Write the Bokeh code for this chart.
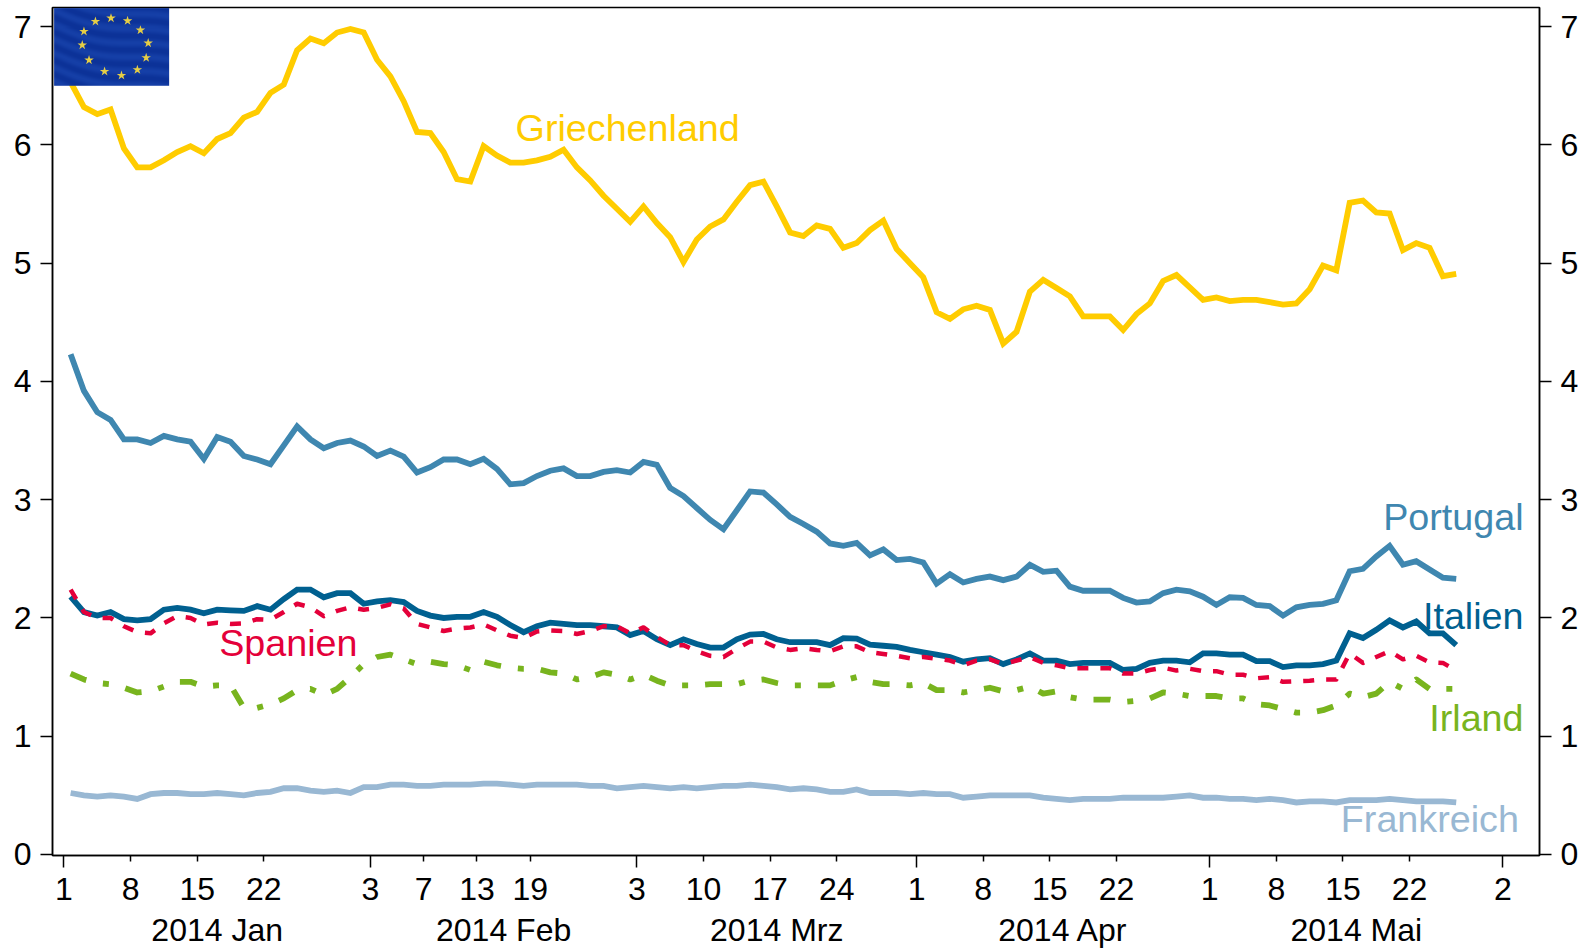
import numpy as np
from bokeh.core.properties import value
from bokeh.embed import file_html
from bokeh.models import ColumnDataSource, FixedTicker, LinearAxis, Range1d
from bokeh.plotting import figure
from bokeh.resources import INLINE

griechenland = [6.53,6.32,6.26,6.3,5.97,5.81,5.81,5.87,5.94,5.99,5.93,6.05,6.1,6.23,6.28,6.44,6.51,6.8,6.9,6.86,6.95,6.98,6.95,6.72,6.58,6.37,6.11,6.1,5.94,5.71,5.69,5.99,5.91,5.85,5.85,5.87,5.9,5.96,5.81,5.7,5.57,5.46,5.35,5.48,5.34,5.22,5.01,5.2,5.31,5.37,5.52,5.66,5.69,5.48,5.26,5.23,5.32,5.29,5.13,
                5.17,5.28,5.36,5.12,5.00,4.88,4.585,4.53,4.61,4.64,4.605,4.32,4.42,4.76,4.86,4.79,4.72,4.55,4.55,4.55,4.435,4.57,4.66,4.85,4.90,4.795,4.69,4.71,4.68,4.69,4.69,4.67,4.65,4.66,4.78,4.98,4.94,5.51,5.53,5.43,5.42,5.11,5.17,5.13,4.89,4.91]
portugal = [4.23,3.92,3.74,3.675,3.51,3.51,3.48,3.54,3.51,3.49,3.345,3.53,3.49,3.37,3.34,3.30,3.46,3.62,3.51,3.435,3.48,3.50,3.45,3.37,3.415,3.365,3.23,3.275,3.34,3.34,3.30,3.345,3.26,3.13,3.14,3.20,3.245,3.265,3.20,3.20,3.235,3.25,3.23,3.32,3.295,3.10,3.03,2.93,2.83,2.75,2.91,3.07,3.06,2.96,2.855,2.795,2.73,2.63,2.61,2.635,2.53,2.58,2.49,2.50,2.47,2.29,2.37,2.30,2.33,2.35,2.32,2.35,
            2.45,2.39,2.40,
            2.265,2.23,2.23,2.23,2.17,2.13,2.14,2.21,2.24,2.225,2.18,2.11,2.175,2.17,2.11,2.10,2.02,2.09,2.11,2.12,2.15,2.395,2.415,2.52,2.61,2.45,2.48,2.41,2.34,2.33]
italien = [2.18,2.05,2.02,2.05,1.99,1.98,1.99,2.07,2.085,2.07,2.04,2.07,2.065,2.06,2.10,2.07,2.16,2.24,2.24,2.175,2.21,2.21,2.12,2.14,2.15,2.135,2.06,2.02,2.00,2.01,2.01,2.05,2.01,1.94,1.88,1.93,1.96,1.95,1.94,1.94,1.93,1.92,1.855,
           1.89,1.82,1.77,1.82,1.78,1.75,1.75,1.82,1.86,1.865,1.82,1.795,1.795,1.795,1.77,1.83,1.825,1.775,1.765,1.755,1.73,1.71,1.69,1.67,1.63,1.65,1.66,
           1.61,1.65,1.70,1.64,1.64,1.61,1.62,1.62,1.62,1.56,1.57,1.62,1.64,1.64,1.625,1.70,1.70,1.69,1.69,1.635,1.635,1.585,
           1.60,1.60,1.61,1.64,1.87,1.83,1.90,1.98,1.92,1.97,1.87,1.87,1.77]
spanien = [2.24,2.05,2.00,2.00,1.93,1.88,1.87,1.955,2.015,2.00,1.945,1.96,1.95,1.955,1.99,1.985,2.05,2.12,2.09,2.015,2.06,2.09,2.07,2.085,2.115,2.08,1.95,1.92,1.89,1.91,1.92,1.945,1.895,1.85,1.83,1.885,1.895,1.89,1.865,1.89,1.93,1.93,1.87,1.92,
           1.84,1.77,1.77,1.72,1.68,1.67,1.74,1.80,1.80,1.75,1.73,1.745,1.73,1.72,1.76,1.76,1.71,1.695,1.68,1.66,1.67,1.655,1.64,1.60,1.64,1.65,1.61,
           1.64,1.67,1.62,1.60,1.575,1.575,1.575,1.575,1.53,1.53,1.56,1.58,1.555,1.57,1.55,1.55,1.52,1.52,1.49,
           1.50,1.46,1.465,1.47,1.48,1.48,1.70,1.62,1.67,1.72,1.65,1.68,1.625,1.62,1.555]
irland = [1.53,1.48,1.45,1.44,1.41,1.37,1.38,1.42,1.46,1.46,1.42,1.43,1.43,1.24,1.24,1.27,1.32,1.39,1.4,1.35,1.4,1.5,1.61,1.67,1.69,1.65,1.61,1.63,1.61,1.6,1.56,1.63,1.6,1.58,1.57,1.57,1.54,1.53,1.48,1.5,1.54,1.52,1.48,1.52,1.47,1.43,1.43,1.43,1.44,1.44,1.44,1.47,1.48,1.45,1.43,1.43,1.43,1.43,1.47,1.5,1.46,1.44,1.44,1.43,1.45,1.39,1.39,1.37,1.39,1.41,1.38,1.39,1.42,1.36,1.38,1.33,1.31,1.31,1.31,1.29,1.3,1.32,1.37,1.36,1.34,1.34,1.34,1.32,1.32,1.27,1.26,1.23,1.2,1.2,1.22,1.26,1.36,1.33,1.36,1.46,1.4,1.48,1.4,1.4,1.4]
frankreich = [0.52,0.50,0.49,0.50,0.49,0.47,0.51,0.52,0.52,0.51,0.51,0.52,0.51,0.50,0.52,0.53,0.56,0.56,0.54,0.53,0.54,0.52,0.57,0.57,0.59,0.59,0.58,0.58,0.59,0.59,0.59,0.60,0.60,0.59,0.58,0.59,0.59,0.59,0.59,0.58,0.58,0.56,0.57,0.58,0.57,0.56,0.57,0.56,0.57,0.58,0.58,0.59,0.58,0.57,0.55,0.56,0.55,0.53,0.53,0.55,0.52,0.52,0.52,0.51,0.52,0.51,0.51,0.48,0.49,0.50,0.50,0.50,0.50,0.48,0.47,0.46,0.47,0.47,0.47,0.48,0.48,0.48,0.48,0.49,0.50,0.48,0.48,0.47,0.47,0.46,0.47,0.46,0.44,0.45,0.45,0.44,0.46,0.46,0.46,0.47,0.46,0.45,0.45,0.45,0.44]

day_ticks = [-0.5,4.5,9.5,14.5,22.5,26.5,30.5,34.5,42.5,47.5,52.5,57.5,63.5,68.5,73.5,78.5,85.5,90.5,95.5,100.5,107.5]
day_labels = ["1","8","15","22","3","7","13","19","3","10","17","24","1","8","15","22","1","8","15","22","2"]
month_starts = [-0.5,22.5,42.5,63.5,85.5,107.5]
month_labels = ["2014 Jan","2014 Feb","2014 Mrz","2014 Apr","2014 Mai"]
y_ticks = [0,1,2,3,4,5,6,7]

FONT = "Liberation Sans"
TICK_PX = "32px"
LABEL_PX = "37.7px"

x_left, x_right = -1.36, 110.25
y_bottom, y_top = -0.0085, 7.162

p = figure(frame_width=1487, frame_height=848, width=1581, height=943,
           x_range=Range1d(x_left, x_right), y_range=Range1d(y_bottom, y_top),
           output_backend="svg", toolbar_location=None, x_axis_location=None, y_axis_location=None,
           min_border_left=52, min_border_right=42, min_border_top=7, min_border_bottom=0,
           background_fill_color="white", border_fill_color="white",
           outline_line_color="black", outline_line_width=1.5)
p.grid.visible = False

for side in ("left", "right"):
    ax = LinearAxis(ticker=FixedTicker(ticks=y_ticks), major_tick_in=0, major_tick_out=12,
                    minor_tick_in=0, minor_tick_out=0, major_tick_line_width=1.5, axis_line_width=1.5,
                    major_label_text_font=FONT, major_label_text_font_size=TICK_PX,
                    major_label_text_color="black", major_label_standoff=9)
    p.add_layout(ax, side)

minor = [t for t in day_ticks if t not in month_starts]
tick_axis = LinearAxis(ticker=FixedTicker(ticks=month_starts, minor_ticks=minor),
                       major_tick_in=0, major_tick_out=12, minor_tick_in=0, minor_tick_out=6,
                       major_tick_line_width=1.5, minor_tick_line_width=1.5, axis_line_width=1.5,
                       major_label_text_font_size="1px", major_label_text_alpha=0,
                       major_label_standoff=0)
p.add_layout(tick_axis, "below")

day_axis = LinearAxis(ticker=FixedTicker(ticks=day_ticks),
                      major_label_overrides={t: s for t, s in zip(day_ticks, day_labels)},
                      axis_line_color=None, major_tick_line_color=None, minor_tick_line_color=None,
                      major_label_text_font=FONT, major_label_text_font_size=TICK_PX,
                      major_label_text_color="black", major_label_standoff=4)
p.add_layout(day_axis, "below")

month_centers = [(a + b) / 2 for a, b in zip(month_starts[:-1], month_starts[1:])]
month_axis = LinearAxis(ticker=FixedTicker(ticks=month_centers),
                        major_label_overrides={t: s for t, s in zip(month_centers, month_labels)},
                        axis_line_color=None, major_tick_line_color=None, minor_tick_line_color=None,
                        major_label_text_font=FONT, major_label_text_font_size=TICK_PX,
                        major_label_text_color="black", major_label_standoff=3)
p.add_layout(month_axis, "below")

idx = list(range(len(griechenland)))
W = 5.8
p.line(idx, frankreich, line_color="#99B8D3", line_width=W, line_join="miter", line_cap="butt")
p.line(idx, irland, line_color="#78B41E", line_width=W, line_dash="17 17 6 17", line_join="round", line_cap="butt")
p.line(idx, griechenland, line_color="#FFCC00", line_width=W, line_join="miter", line_cap="butt")
p.line(idx, portugal, line_color="#3F87B0", line_width=W, line_join="miter", line_cap="butt")
p.line(idx, italien, line_color="#006090", line_width=W, line_join="miter", line_cap="butt")
p.line(idx, spanien, line_color="#E4003A", line_width=4.5, line_dash="11 12", line_join="round", line_cap="butt")

labels = ColumnDataSource(dict(
    x=[33.4, 11.15, 109.05, 109.05, 109.05, 108.7],
    y=[6.14, 1.79, 2.85, 2.02, 1.15, 0.30],
    t=["Griechenland", "Spanien", "Portugal", "Italien", "Irland", "Frankreich"],
    c=["#FFCC00", "#E4003A", "#3F87B0", "#006090", "#78B41E", "#99B8D3"],
    a=["left", "left", "right", "right", "right", "right"],
))
p.text("x", "y", text="t", source=labels, text_color="c", text_align="a", text_baseline="alphabetic",
       text_font=value(FONT), text_font_size=value(LABEL_PX))

# EU flag in the top-left corner of the plot area
px_x = lambda px: x_left + (px - 52.4) / 13.32
px_y = lambda py: y_top - (py - 6.7) / 118.3
fx0, fx1, fy0, fy1 = 54.0, 169.0, 7.3, 85.0
fw, fh = int(fx1 - fx0), int(fy1 - fy0)
yy, xx = np.mgrid[0:fh, 0:fw]
wave = 0.5 + 0.5 * np.sin((xx * 0.10 + yy * 0.45) + np.sin(xx * 0.04) * 2.5)
img = np.zeros((fh, fw), dtype=np.uint32)
view = img.view(dtype=np.uint8).reshape((fh, fw, 4))
view[..., 0] = (12 + 10 * wave).astype(np.uint8)
view[..., 1] = (50 + 14 * wave).astype(np.uint8)
view[..., 2] = (152 + 16 * wave).astype(np.uint8)
view[..., 3] = 255
p.image_rgba(image=[img], x=px_x(fx0), y=px_y(fy1), dw=px_x(fx1) - px_x(fx0), dh=px_y(fy0) - px_y(fy1))
star_zoom = [(328,52),(377,60),(415,88),(438,127),(432,171),(406,207),(359,224),(309,212),(263,178),(243,133),(248,92),(282,62)]
p.scatter([px_x(a / 2.958) for a, _ in star_zoom], [px_y(b / 3) for _, b in star_zoom],
          marker="star", size=10, fill_color="#E6CE45", line_color=None)

open("out.html", "w").write(file_html(p, INLINE))
